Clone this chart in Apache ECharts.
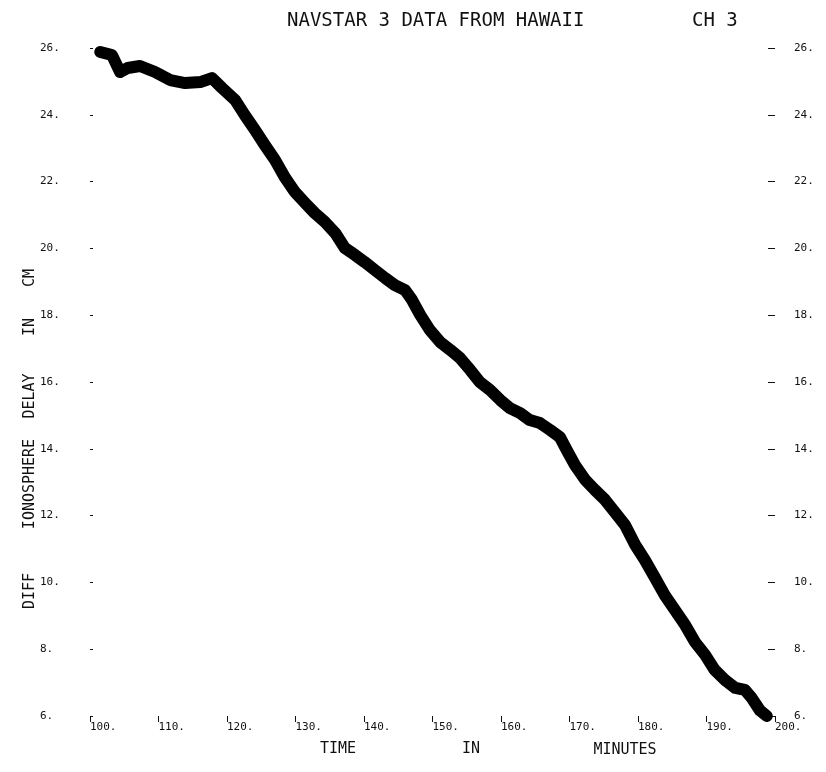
<!DOCTYPE html>
<html>
<head>
<meta charset="utf-8">
<script src="https://cdn.jsdelivr.net/npm/echarts@6/dist/echarts.min.js"></script>
<style>
html,body{margin:0;padding:0;background:#fff;}
#chart{width:826px;height:772px;}
</style>
</head>
<body>
<div id="chart"></div>
<script>
// Time in minutes (centre of the plotted band)
var time = [101.5,103.2,104.4,105.5,107.3,109.5,111.7,113.9,116.1,117.8,119.3,121.2,122.6,124.1,125.5,127.0,128.5,129.9,131.4,132.8,134.3,135.8,137.2,138.7,140.1,141.6,143.1,144.5,146.0,147.0,148.2,149.6,151.1,152.6,154.0,155.5,156.9,158.4,159.9,161.3,162.8,164.2,165.7,167.2,168.6,169.6,170.8,172.3,173.7,175.2,176.6,178.1,179.6,181.0,182.5,183.9,185.4,186.9,188.3,189.8,191.2,192.7,194.2,195.6,196.6,197.8,198.8];
// Differential ionosphere delay in cm
var delay = [25.88,25.79,25.28,25.40,25.46,25.28,25.04,24.95,24.98,25.10,24.80,24.44,23.99,23.54,23.10,22.65,22.11,21.69,21.36,21.06,20.79,20.46,20.01,19.80,19.59,19.35,19.11,18.90,18.75,18.46,18.01,17.56,17.20,16.96,16.72,16.36,16.00,15.76,15.46,15.22,15.07,14.86,14.77,14.56,14.35,13.96,13.51,13.07,12.77,12.47,12.11,11.72,11.12,10.67,10.13,9.62,9.17,8.72,8.22,7.83,7.38,7.08,6.84,6.78,6.54,6.17,6.0];

var titleText = 'NAVSTAR 3 DATA FROM HAWAII';
var channelText = 'CH 3';
var xNameWords = ['TIME', 'IN', 'MINUTES'];
var yNameWords = ['DIFF', 'IONOSPHERE', 'DELAY', 'IN', 'CM'];

var FONT = '"DejaVu Sans Mono", "Liberation Mono", monospace';
var pts = time.map(function (t, i) { return [t, delay[i]]; });
var fmt = function (v) { return v + '.'; };

var chart = echarts.init(document.getElementById('chart'), null, {renderer: 'canvas'});

var xNamePos = [[338, 749], [471, 749], [625, 750]];
var yNamePos = [591, 484, 396, 327, 278];
var graphics = [
  {type: 'text', left: 287, top: 12, style: {text: titleText, font: '19px ' + FONT, fill: '#111'}},
  {type: 'text', left: 692, top: 12, style: {text: channelText, font: '19px ' + FONT, fill: '#111'}}
];
xNameWords.forEach(function (w, i) {
  graphics.push({type: 'text', x: xNamePos[i][0], y: xNamePos[i][1],
    style: {text: w, font: '15px ' + FONT, fill: '#111', align: 'center', verticalAlign: 'middle'}});
});
yNameWords.forEach(function (w, i) {
  graphics.push({type: 'text', x: 30, y: yNamePos[i], rotation: Math.PI / 2,
    style: {text: w, font: '15px ' + FONT, fill: '#111', align: 'center', verticalAlign: 'middle'}});
});

chart.setOption({
  animation: false,
  backgroundColor: '#fff',
  grid: {left: 90, right: 51, top: 48, bottom: 56, containLabel: false},
  xAxis: {
    type: 'value', min: 100, max: 200, interval: 10,
    axisLine: {show: false},
    axisTick: {show: true, length: 6, lineStyle: {color: '#111', width: 1}},
    splitLine: {show: false},
    axisLabel: {formatter: fmt, align: 'left', margin: 6, color: '#111', fontFamily: FONT, fontSize: 11}
  },
  yAxis: [
    {
      type: 'value', min: 6, max: 26, interval: 2, position: 'left',
      axisLine: {show: false},
      axisTick: {show: true, inside: true, length: 3, lineStyle: {color: '#111', width: 1}},
      splitLine: {show: false},
      axisLabel: {formatter: fmt, align: 'left', margin: 50, color: '#111', fontFamily: FONT, fontSize: 11}
    },
    {
      type: 'value', min: 6, max: 26, interval: 2, position: 'right',
      axisLine: {show: false},
      axisTick: {show: true, inside: true, length: 7, lineStyle: {color: '#111', width: 1}},
      splitLine: {show: false},
      axisLabel: {formatter: fmt, align: 'left', margin: 19, color: '#111', fontFamily: FONT, fontSize: 11}
    }
  ],
  graphic: graphics,
  series: [{
    type: 'line',
    data: pts,
    showSymbol: false,
    smooth: false,
    lineStyle: {color: '#000', width: 12, cap: 'round', join: 'round'}
  }]
});
</script>
</body>
</html>
